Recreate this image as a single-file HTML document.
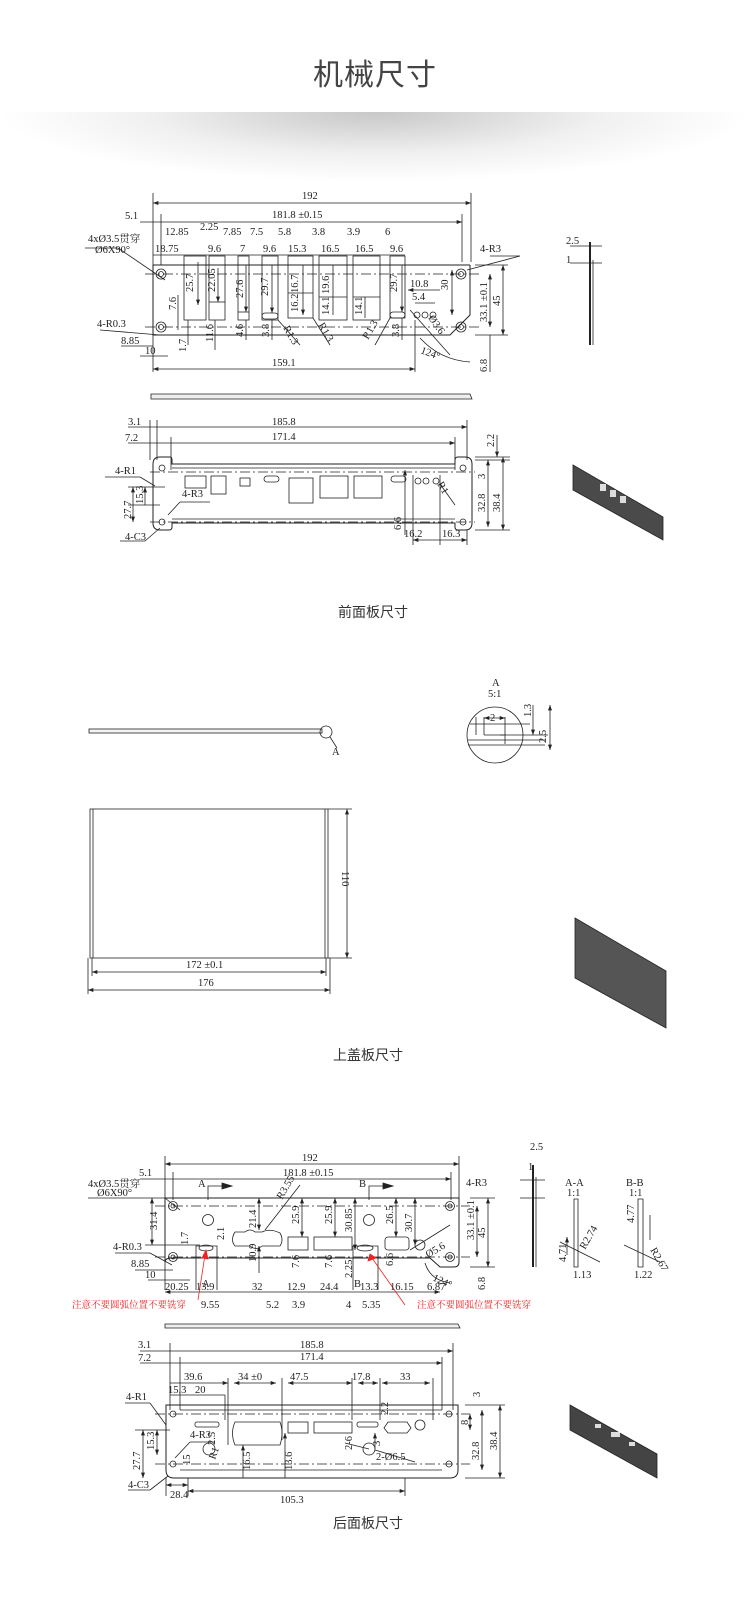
<!DOCTYPE html>
<html><head><meta charset="utf-8"><style>
html,body{margin:0;padding:0;background:#fff;}
body{width:750px;height:1607px;position:relative;overflow:hidden;}
.title{position:absolute;top:50px;left:0;width:750px;text-align:center;font:30px "Liberation Sans","Noto Sans CJK SC",sans-serif;color:#444;letter-spacing:1px;}
.shadow{position:absolute;top:112px;left:0;width:750px;height:70px;background:radial-gradient(ellipse 50% 100% at 50% 0%,rgba(0,0,0,0.22),rgba(0,0,0,0.06) 60%,rgba(0,0,0,0) 100%);}
svg{position:absolute;top:0;left:0;}
svg text{font-family:"Liberation Serif","Noto Serif CJK SC",serif;font-size:10.5px;fill:#222;}
.cap{font-family:"Liberation Sans","Noto Sans CJK SC",sans-serif !important;font-size:14px !important;fill:#333 !important;}
</style></head><body>
<div class="title">机械尺寸</div>
<div class="shadow"></div>
<svg width="750" height="1607" viewBox="0 0 750 1607">
<defs>
<marker id="a" viewBox="0 0 8 6" refX="8" refY="3" markerWidth="7" markerHeight="5" orient="auto-start-reverse"><path d="M0,0L8,3L0,6z" fill="#222"/></marker>
</defs>
<g stroke="#222" stroke-width="0.8" fill="none">
<!-- ===== Section 1 front panel top view ===== -->
<line x1="153" y1="193" x2="153" y2="372"/>
<line x1="471" y1="193" x2="471" y2="262"/>
<line x1="153" y1="203" x2="471" y2="203" marker-start="url(#a)" marker-end="url(#a)"/>
<line x1="161" y1="214" x2="161" y2="265"/>
<line x1="462" y1="214" x2="462" y2="262"/>
<line x1="140" y1="222" x2="462" y2="222" marker-end="url(#a)"/>
<line x1="153" y1="255" x2="405" y2="255"/>
<line x1="153" y1="265" x2="470" y2="265" stroke-width="1"/>
<path d="M153,265 V335 H450 L470,315 V265" stroke-width="1"/>
<line x1="145" y1="274" x2="480" y2="274" stroke-dasharray="10 3 2 3"/>
<line x1="145" y1="327" x2="480" y2="327" stroke-dasharray="10 3 2 3"/>
<circle cx="161" cy="274" r="5"/><circle cx="161" cy="274" r="2.5"/>
<circle cx="161" cy="327" r="5"/><circle cx="161" cy="327" r="2.5"/>
<circle cx="461" cy="274" r="5"/><circle cx="461" cy="274" r="2.5"/>
<circle cx="461" cy="327" r="5"/><circle cx="461" cy="327" r="2.5"/>
<rect x="184" y="256" width="22" height="64"/>
<rect x="209" y="256" width="16" height="64"/><line x1="209" y1="302" x2="225" y2="302"/>
<rect x="238" y="256" width="11" height="64"/><line x1="238" y1="312" x2="249" y2="312"/>
<rect x="262" y="256" width="16" height="64"/><rect x="262" y="313" width="16" height="6" rx="3"/>
<rect x="288" y="256" width="25" height="62"/><line x1="288" y1="293" x2="313" y2="293"/>
<rect x="319" y="256" width="28" height="64"/><line x1="319" y1="297" x2="347" y2="297"/>
<rect x="353" y="256" width="27" height="64"/><line x1="353" y1="297" x2="380" y2="297"/>
<rect x="390" y="256" width="15" height="62"/><rect x="390" y="312" width="15" height="6" rx="3"/>
<circle cx="417" cy="315" r="3"/><circle cx="425" cy="315" r="3"/><circle cx="433" cy="315" r="3"/>
<line x1="198" y1="262" x2="198" y2="305" marker-end="url(#a)"/>
<line x1="218" y1="268" x2="218" y2="302" marker-end="url(#a)"/>
<line x1="246" y1="265" x2="246" y2="312" marker-end="url(#a)"/>
<line x1="272" y1="265" x2="272" y2="313" marker-end="url(#a)"/>
<line x1="303" y1="265" x2="303" y2="315" marker-end="url(#a)"/>
<line x1="333" y1="265" x2="333" y2="315"/>
<line x1="365" y1="297" x2="365" y2="318"/>
<line x1="402" y1="265" x2="402" y2="312" marker-end="url(#a)"/>
<line x1="178" y1="295" x2="178" y2="330"/>
<line x1="188" y1="320" x2="188" y2="345"/>
<line x1="215" y1="320" x2="215" y2="350"/>
<line x1="246" y1="320" x2="246" y2="340"/>
<line x1="272" y1="320" x2="272" y2="340"/>
<line x1="402" y1="318" x2="402" y2="340"/>
<line x1="408" y1="290" x2="440" y2="290" marker-start="url(#a)"/>
<line x1="415" y1="303" x2="435" y2="303"/>
<line x1="452" y1="270" x2="452" y2="315" marker-start="url(#a)" marker-end="url(#a)"/>
<line x1="490" y1="274" x2="490" y2="327" marker-start="url(#a)" marker-end="url(#a)"/>
<line x1="475" y1="265" x2="508" y2="265"/><line x1="475" y1="335" x2="508" y2="335"/>
<line x1="503" y1="265" x2="503" y2="335" marker-start="url(#a)" marker-end="url(#a)"/>
<line x1="490" y1="335" x2="490" y2="372"/>
<path d="M420,338 Q440,360 470,362"/>
<line x1="467" y1="270" x2="520" y2="256"/><line x1="490" y1="256" x2="520" y2="256"/>
<line x1="165" y1="280" x2="118" y2="248"/><line x1="85" y1="248" x2="118" y2="248"/>
<line x1="160" y1="335" x2="100" y2="330"/>
<line x1="121" y1="346" x2="153" y2="346"/><line x1="140" y1="356" x2="168" y2="356"/>
<line x1="153" y1="369" x2="415" y2="369" marker-start="url(#a)" marker-end="url(#a)"/>
<line x1="415" y1="320" x2="415" y2="372"/>
<line x1="278" y1="320" x2="300" y2="345"/><line x1="313" y1="318" x2="330" y2="345"/>
<line x1="390" y1="318" x2="375" y2="345"/><line x1="410" y1="310" x2="450" y2="355"/>
<path d="M151,394 H470 L472,399 H151 Z" fill="#eee"/>
<!-- side view top -->
<line x1="590" y1="242" x2="590" y2="345" stroke-width="2"/>
<line x1="593" y1="260" x2="593" y2="345"/>
<line x1="570" y1="246" x2="602" y2="246"/><line x1="570" y1="263" x2="602" y2="263"/>
<!-- ===== Section 1 bottom view ===== -->
<line x1="150" y1="420" x2="150" y2="460"/><line x1="157" y1="420" x2="157" y2="460"/>
<line x1="467" y1="420" x2="467" y2="460"/>
<line x1="128" y1="427" x2="467" y2="427" marker-end="url(#a)"/>
<line x1="171" y1="437" x2="171" y2="470"/><line x1="455" y1="437" x2="455" y2="470"/>
<line x1="128" y1="443" x2="455" y2="443" marker-end="url(#a)"/>
<path d="M160,457 H170 Q172,457 172,460 V464 H455 V460 Q455,457 458,457 H465 Q472,457 472,464 V523 Q472,530 465,530 H458 Q455,530 455,527 V523 H172 V527 Q172,530 169,530 H160 Q153,530 153,523 V464 Q153,457 160,457 Z" stroke-width="1"/>
<line x1="172" y1="468" x2="455" y2="468"/>
<line x1="150" y1="472" x2="475" y2="472" stroke-dasharray="10 3 2 3"/>
<line x1="172" y1="519" x2="455" y2="519"/>
<line x1="150" y1="522" x2="475" y2="522" stroke-dasharray="10 3 2 3"/>
<circle cx="162" cy="468" r="3"/><circle cx="162" cy="522" r="3"/>
<circle cx="463" cy="468" r="3"/><circle cx="463" cy="522" r="3"/>
<rect x="185" y="476" width="21" height="12"/>
<rect x="211" y="476" width="15" height="18"/>
<rect x="240" y="478" width="10" height="8"/>
<rect x="264" y="476" width="15" height="6" rx="3"/>
<rect x="289" y="478" width="24" height="25"/>
<rect x="320" y="476" width="28" height="22"/>
<rect x="354" y="476" width="28" height="22"/>
<rect x="391" y="476" width="15" height="6" rx="3"/>
<circle cx="418" cy="481" r="3"/><circle cx="426" cy="481" r="3"/><circle cx="436" cy="481" r="3"/>
<line x1="413" y1="475" x2="413" y2="545"/><line x1="440" y1="475" x2="440" y2="545"/><line x1="467" y1="530" x2="467" y2="545"/>
<line x1="413" y1="540" x2="467" y2="540" marker-start="url(#a)" marker-end="url(#a)"/>
<line x1="405" y1="470" x2="405" y2="535" marker-start="url(#a)"/>
<line x1="475" y1="460" x2="510" y2="460"/><line x1="475" y1="457" x2="510" y2="457"/><line x1="475" y1="530" x2="510" y2="530"/>
<line x1="488" y1="460" x2="488" y2="527" marker-start="url(#a)" marker-end="url(#a)"/>
<line x1="503" y1="457" x2="503" y2="530" marker-start="url(#a)" marker-end="url(#a)"/>
<line x1="497" y1="435" x2="497" y2="457" marker-end="url(#a)"/>
<line x1="133" y1="487" x2="133" y2="522" marker-start="url(#a)" marker-end="url(#a)"/>
<line x1="145" y1="487" x2="145" y2="505" marker-start="url(#a)"/>
<line x1="128" y1="487" x2="165" y2="487"/><line x1="128" y1="505" x2="160" y2="505"/>
<line x1="105" y1="477" x2="140" y2="477"/><line x1="140" y1="477" x2="155" y2="486"/>
<line x1="180" y1="502" x2="210" y2="502"/><line x1="180" y1="502" x2="168" y2="515"/>
<line x1="120" y1="541" x2="145" y2="541"/><line x1="145" y1="541" x2="160" y2="528"/>
<line x1="440" y1="484" x2="455" y2="505"/>
<path d="M573,465 L663,517 L663,540 L573,490 Z" fill="#4a4a4a"/>
<!-- ===== Section 2 ===== -->
<rect x="89" y="729" width="233" height="4" fill="#f4f4f4"/>
<circle cx="326" cy="732" r="6"/>
<line x1="330" y1="737" x2="337" y2="748"/>
<circle cx="495" cy="735" r="28"/>
<line x1="470" y1="724" x2="530" y2="724"/><line x1="468" y1="740" x2="545" y2="740"/><line x1="468" y1="745" x2="545" y2="745"/>
<line x1="476" y1="717" x2="476" y2="735"/><line x1="484" y1="717" x2="484" y2="735"/><line x1="484" y1="735" x2="505" y2="735"/><line x1="505" y1="717" x2="505" y2="744"/>
<line x1="484" y1="718" x2="505" y2="718" marker-start="url(#a)" marker-end="url(#a)"/>
<line x1="533" y1="705" x2="533" y2="735" marker-end="url(#a)"/>
<line x1="550" y1="705" x2="550" y2="750" marker-start="url(#a)" marker-end="url(#a)"/>
<line x1="500" y1="735" x2="548" y2="735"/>
<rect x="90" y="809" width="238" height="149"/>
<line x1="93" y1="809" x2="93" y2="958"/><line x1="325" y1="809" x2="325" y2="958"/>
<line x1="328" y1="809" x2="352" y2="809"/><line x1="328" y1="958" x2="352" y2="958"/>
<line x1="347" y1="809" x2="347" y2="958" marker-start="url(#a)" marker-end="url(#a)"/>
<line x1="92" y1="958" x2="92" y2="976"/><line x1="326" y1="958" x2="326" y2="976"/>
<line x1="92" y1="972" x2="326" y2="972" marker-start="url(#a)" marker-end="url(#a)"/>
<line x1="88" y1="958" x2="88" y2="994"/><line x1="330" y1="958" x2="330" y2="994"/>
<line x1="88" y1="990" x2="330" y2="990" marker-start="url(#a)" marker-end="url(#a)"/>
<path d="M575,918 L666,971 L666,1028 L575,978 Z" fill="#555" stroke="#222"/>
<!-- ===== Section 3 rear panel ===== -->
<line x1="165" y1="1156" x2="165" y2="1290"/><line x1="459" y1="1156" x2="459" y2="1198"/>
<line x1="165" y1="1164" x2="459" y2="1164" marker-start="url(#a)" marker-end="url(#a)"/>
<line x1="173" y1="1172" x2="173" y2="1200"/><line x1="451" y1="1172" x2="451" y2="1200"/>
<line x1="140" y1="1179" x2="451" y2="1179" marker-end="url(#a)"/>
<polyline points="208,1200 208,1186 225,1186" /><path d="M222,1183 L232,1186 L222,1189Z" fill="#222"/>
<polyline points="369,1200 369,1186 386,1186" /><path d="M383,1183 L393,1186 L383,1189Z" fill="#222"/>
<path d="M165,1198 H459 V1262 Q459,1267 454,1267 H440 L430,1258 H172 Q165,1258 165,1262 Z" stroke-width="1"/>
<line x1="155" y1="1206" x2="470" y2="1206" stroke-dasharray="10 3 2 3"/>
<line x1="155" y1="1257" x2="470" y2="1257" stroke-dasharray="10 3 2 3"/>
<circle cx="173" cy="1206" r="4.5"/><circle cx="173" cy="1206" r="2"/>
<circle cx="173" cy="1257" r="4.5"/><circle cx="173" cy="1257" r="2"/>
<circle cx="450" cy="1206" r="4.5"/><circle cx="450" cy="1206" r="2"/>
<circle cx="450" cy="1257" r="4.5"/><circle cx="450" cy="1257" r="2"/>
<circle cx="208" cy="1220" r="5.5"/><circle cx="369" cy="1220" r="5.5"/>
<path d="M235,1232 H245 Q250,1228 255,1232 H262 Q270,1228 280,1233 Q284,1240 280,1246 H262 Q256,1251 250,1246 H235 Q230,1240 235,1232 Z"/>
<rect x="288" y="1237" width="20" height="13"/><rect x="314" y="1237" width="38" height="13"/>
<rect x="385" y="1237" width="24" height="13" rx="3"/>
<circle cx="420" cy="1245" r="5"/>
<path d="M196,1290 V1246 H217 V1290"/><ellipse cx="206" cy="1248" rx="7" ry="3"/>
<path d="M353,1290 V1246 H378 V1290"/><ellipse cx="365" cy="1248" rx="8" ry="3"/>
<line x1="152" y1="1198" x2="152" y2="1245" marker-start="url(#a)" marker-end="url(#a)"/>
<line x1="145" y1="1245" x2="200" y2="1245"/>
<line x1="259" y1="1198" x2="259" y2="1230" marker-start="url(#a)" marker-end="url(#a)"/>
<line x1="259" y1="1246" x2="259" y2="1273" marker-start="url(#a)"/>
<line x1="302" y1="1198" x2="302" y2="1237" marker-start="url(#a)" marker-end="url(#a)"/>
<line x1="335" y1="1198" x2="335" y2="1237" marker-start="url(#a)" marker-end="url(#a)"/>
<line x1="355" y1="1198" x2="355" y2="1250" marker-start="url(#a)" marker-end="url(#a)"/>
<line x1="396" y1="1198" x2="396" y2="1237" marker-start="url(#a)" marker-end="url(#a)"/>
<line x1="415" y1="1198" x2="415" y2="1245" marker-start="url(#a)" marker-end="url(#a)"/>
<line x1="470" y1="1198" x2="495" y2="1198"/><line x1="470" y1="1267" x2="495" y2="1267"/>
<line x1="477" y1="1206" x2="477" y2="1257" marker-start="url(#a)" marker-end="url(#a)"/>
<line x1="488" y1="1198" x2="488" y2="1267" marker-start="url(#a)" marker-end="url(#a)"/>
<line x1="265" y1="1230" x2="300" y2="1185"/>
<line x1="410" y1="1250" x2="450" y2="1225"/>
<line x1="88" y1="1198" x2="165" y2="1198"/><line x1="165" y1="1198" x2="180" y2="1210"/>
<line x1="115" y1="1253" x2="150" y2="1253"/><line x1="150" y1="1253" x2="172" y2="1265"/>
<line x1="135" y1="1270" x2="173" y2="1270"/><line x1="148" y1="1280" x2="190" y2="1280"/>
<path d="M425,1263 Q430,1280 450,1283"/>
<line x1="165" y1="1292" x2="440" y2="1292" marker-start="url(#a)" marker-end="url(#a)"/>
<line x1="198" y1="1300" x2="205" y2="1255" stroke="#e22"/><path d="M202,1258 L206,1250 L208,1259Z" fill="#e22" stroke="#e22"/>
<line x1="405" y1="1305" x2="372" y2="1258" stroke="#e22"/><path d="M368,1261 L370,1254 L376,1258Z" fill="#e22" stroke="#e22"/>
<path d="M165,1324 H458 L460,1328 H165 Z" fill="#eee"/>
<line x1="170" y1="1343" x2="170" y2="1410"/><line x1="453" y1="1343" x2="453" y2="1410"/>
<line x1="140" y1="1351" x2="453" y2="1351" marker-end="url(#a)"/>
<line x1="180" y1="1357" x2="180" y2="1410"/><line x1="442" y1="1357" x2="442" y2="1410"/>
<line x1="140" y1="1363" x2="442" y2="1363" marker-end="url(#a)"/>
<line x1="170" y1="1383" x2="228" y2="1383" marker-end="url(#a)"/>
<line x1="228" y1="1378" x2="228" y2="1445"/><line x1="282" y1="1378" x2="282" y2="1440"/>
<line x1="234" y1="1383" x2="276" y2="1383" marker-start="url(#a)" marker-end="url(#a)"/>
<line x1="288" y1="1383" x2="352" y2="1383" marker-start="url(#a)" marker-end="url(#a)"/>
<line x1="352" y1="1378" x2="352" y2="1420"/><line x1="380" y1="1378" x2="380" y2="1420"/><line x1="433" y1="1378" x2="433" y2="1420"/>
<line x1="358" y1="1383" x2="378" y2="1383" marker-start="url(#a)" marker-end="url(#a)"/>
<line x1="382" y1="1383" x2="430" y2="1383" marker-start="url(#a)" marker-end="url(#a)"/>
<line x1="170" y1="1395" x2="225" y2="1395"/><line x1="225" y1="1395" x2="225" y2="1420"/>
<path d="M166,1405 H458 V1470 Q458,1478 450,1478 H174 Q166,1478 166,1470 Z" stroke-width="1"/>
<line x1="180" y1="1410" x2="442" y2="1410"/><line x1="180" y1="1470" x2="442" y2="1470"/>
<line x1="155" y1="1414" x2="470" y2="1414" stroke-dasharray="10 3 2 3"/>
<line x1="155" y1="1464" x2="470" y2="1464" stroke-dasharray="10 3 2 3"/>
<circle cx="173" cy="1414" r="3"/><circle cx="449" cy="1414" r="3"/><circle cx="173" cy="1464" r="3"/><circle cx="449" cy="1464" r="3"/>
<rect x="195" y="1422" width="24" height="5" rx="2"/>
<path d="M235,1422 H280 Q284,1433 280,1445 H235 Q230,1433 235,1422 Z"/>
<rect x="288" y="1422" width="20" height="11"/><rect x="314" y="1422" width="38" height="11"/>
<rect x="357" y="1422" width="21" height="5" rx="2"/>
<path d="M388,1422 H407 L411,1428 L407,1433 H388 L384,1428 Z"/>
<circle cx="420" cy="1425" r="5"/><circle cx="209" cy="1449" r="6"/><circle cx="369" cy="1449" r="6"/>
<line x1="243" y1="1445" x2="243" y2="1478" marker-start="url(#a)"/>
<line x1="285" y1="1433" x2="285" y2="1478" marker-start="url(#a)"/>
<line x1="375" y1="1433" x2="375" y2="1449" marker-start="url(#a)"/>
<line x1="345" y1="1443" x2="369" y2="1449"/><line x1="375" y1="1450" x2="415" y2="1462"/>
<line x1="143" y1="1430" x2="143" y2="1478" marker-start="url(#a)" marker-end="url(#a)"/>
<line x1="157" y1="1430" x2="157" y2="1455" marker-start="url(#a)" marker-end="url(#a)"/>
<line x1="135" y1="1430" x2="170" y2="1430"/>
<line x1="125" y1="1403" x2="150" y2="1403"/><line x1="150" y1="1403" x2="166" y2="1425"/>
<line x1="190" y1="1442" x2="215" y2="1442"/><line x1="190" y1="1442" x2="175" y2="1458"/>
<line x1="465" y1="1405" x2="505" y2="1405"/><line x1="465" y1="1478" x2="505" y2="1478"/>
<line x1="470" y1="1414" x2="470" y2="1430" marker-start="url(#a)" marker-end="url(#a)"/>
<line x1="482" y1="1410" x2="482" y2="1470" marker-start="url(#a)" marker-end="url(#a)"/>
<line x1="500" y1="1405" x2="500" y2="1478" marker-start="url(#a)" marker-end="url(#a)"/>
<line x1="166" y1="1478" x2="166" y2="1496"/><line x1="188" y1="1478" x2="188" y2="1496"/><line x1="405" y1="1478" x2="405" y2="1496"/>
<line x1="166" y1="1485" x2="188" y2="1485" marker-start="url(#a)" marker-end="url(#a)"/>
<line x1="188" y1="1491" x2="405" y2="1491" marker-start="url(#a)" marker-end="url(#a)"/>
<line x1="128" y1="1490" x2="150" y2="1490"/><line x1="150" y1="1490" x2="168" y2="1476"/>
<!-- side / section views -->
<line x1="533" y1="1165" x2="533" y2="1267" stroke-width="2"/><line x1="536" y1="1177" x2="536" y2="1267"/>
<line x1="520" y1="1180" x2="545" y2="1180"/><line x1="520" y1="1198" x2="545" y2="1198"/>
<path d="M574,1199 H578 V1267 H574 Z"/><path d="M638,1199 H643 V1267 H638 Z"/>
<line x1="560" y1="1242" x2="600" y2="1262"/><line x1="624" y1="1245" x2="660" y2="1262"/>
<line x1="567" y1="1237" x2="567" y2="1255" marker-start="url(#a)"/>
<line x1="650" y1="1215" x2="650" y2="1240"/>
<path d="M570,1405 L657,1454 L657,1478 L570,1430 Z" fill="#444"/>
</g>
<g fill="#ddd">
<rect x="600" y="484" width="6" height="7"/><rect x="610" y="490" width="6" height="7"/><rect x="620" y="496" width="6" height="7"/>
<rect x="595" y="1424" width="6" height="4"/><rect x="611" y="1432" width="9" height="5"/><rect x="629" y="1442" width="6" height="4"/>
</g>
<!-- Text section 1 -->
<text x="302" y="199">192</text>
<text x="272" y="218">181.8 ±0.15</text>
<text x="125" y="219">5.1</text>
<text x="165" y="235">12.85</text><text x="200" y="230">2.25</text><text x="223" y="235">7.85</text><text x="250" y="235">7.5</text><text x="278" y="235">5.8</text><text x="312" y="235">3.8</text><text x="347" y="235">3.9</text><text x="385" y="235">6</text>
<text x="155" y="252">18.75</text><text x="208" y="252">9.6</text><text x="240" y="252">7</text><text x="263" y="252">9.6</text><text x="288" y="252">15.3</text><text x="321" y="252">16.5</text><text x="355" y="252">16.5</text><text x="390" y="252">9.6</text>
<text x="88" y="242">4xØ3.5贯穿</text><text x="95" y="253">Ø6X90°</text>
<text x="480" y="252">4-R3</text>
<text x="97" y="327">4-R0.3</text>
<text x="121" y="344">8.85</text><text x="145" y="354">10</text>
<text x="410" y="287">10.8</text><text x="412" y="300">5.4</text>
<text x="272" y="366">159.1</text>
<text x="420" y="353" transform="rotate(20 420 353)">124°</text>
<g font-size="10.5">
<text transform="translate(193,292) rotate(-90)">25.7</text>
<text transform="translate(215,292) rotate(-90)">22.05</text>
<text transform="translate(243,298) rotate(-90)">27.6</text>
<text transform="translate(268,296) rotate(-90)">29.7</text>
<text transform="translate(298,293) rotate(-90)">16.7</text>
<text transform="translate(298,312) rotate(-90)">16.2</text>
<text transform="translate(329,294) rotate(-90)">19.6</text>
<text transform="translate(329,315) rotate(-90)">14.1</text>
<text transform="translate(362,315) rotate(-90)">14.1</text>
<text transform="translate(397,292) rotate(-90)">29.7</text>
<text transform="translate(176,310) rotate(-90)">7.6</text>
<text transform="translate(186,352) rotate(-90)">1.7</text>
<text transform="translate(213,342) rotate(-90)">11.6</text>
<text transform="translate(243,337) rotate(-90)">4.6</text>
<text transform="translate(269,337) rotate(-90)">3.8</text>
<text transform="translate(399,337) rotate(-90)">3.8</text>
<text transform="translate(448,290) rotate(-90)">30</text>
<text transform="translate(487,322) rotate(-90)">33.1 ±0.1</text>
<text transform="translate(500,306) rotate(-90)">45</text>
<text transform="translate(487,372) rotate(-90)">6.8</text>
<text transform="translate(283,328) rotate(60)">R1.3</text>
<text transform="translate(318,325) rotate(60)">R1.3</text>
<text transform="translate(368,340) rotate(-60)">R1.3</text>
<text transform="translate(428,318) rotate(55)">Ø3.6</text>
</g>
<text x="566" y="244">2.5</text><text x="566" y="263">1</text>
<text x="128" y="425">3.1</text><text x="272" y="425">185.8</text>
<text x="125" y="441">7.2</text><text x="272" y="440">171.4</text>
<text x="115" y="474">4-R1</text><text x="182" y="497">4-R3</text><text x="125" y="540">4-C3</text>
<text x="404" y="537">16.2</text><text x="442" y="537">16.3</text>
<text transform="translate(131,519) rotate(-90)">27.7</text>
<text transform="translate(143,504) rotate(-90)">15.3</text>
<text transform="translate(401,530) rotate(-90)">6.6</text>
<text transform="translate(485,479) rotate(-90)">3</text>
<text transform="translate(485,512) rotate(-90)">32.8</text>
<text transform="translate(500,512) rotate(-90)">38.4</text>
<text transform="translate(494,447) rotate(-90)">2.2</text>
<text transform="translate(437,484) rotate(60)">R1</text>
<text class="cap" x="338" y="617">前面板尺寸</text>
<!-- section 2 text -->
<text x="492" y="686" font-size="9">A</text><text x="488" y="697" font-size="9">5:1</text>
<text x="332" y="755">A</text>
<text x="490" y="721" font-size="9">2</text>
<text transform="translate(531,717) rotate(-90)" font-size="9">1.3</text>
<text transform="translate(546,743) rotate(-90)" font-size="9">2.5</text>
<text transform="translate(342,871) rotate(90)">110</text>
<text x="186" y="968">172 ±0.1</text>
<text x="198" y="986">176</text>
<text class="cap" x="333" y="1060">上盖板尺寸</text>
<!-- section 3 text -->
<text x="302" y="1161">192</text><text x="283" y="1176">181.8 ±0.15</text><text x="139" y="1176">5.1</text>
<text x="88" y="1187">4xØ3.5贯穿</text><text x="97" y="1196">Ø6X90°</text>
<text x="198" y="1187">A</text><text x="359" y="1187">B</text>
<text x="466" y="1186">4-R3</text>
<text x="113" y="1250">4-R0.3</text><text x="131" y="1267">8.85</text><text x="145" y="1278">10</text>
<text x="202" y="1287">A</text><text x="354" y="1287">B</text>
<text x="165" y="1290">20.25</text><text x="196" y="1290">13.9</text><text x="252" y="1290">32</text><text x="287" y="1290">12.9</text><text x="320" y="1290">24.4</text><text x="360" y="1290">13.3</text><text x="390" y="1290">16.15</text><text x="427" y="1290">6.87</text>
<text x="72" y="1308" style="fill:#e22;font-size:9.5px">注意不要圆弧位置不要铣穿</text>
<text x="417" y="1308" style="fill:#e22;font-size:9.5px">注意不要圆弧位置不要铣穿</text>
<text x="201" y="1308">9.55</text><text x="266" y="1308">5.2</text><text x="292" y="1308">3.9</text><text x="346" y="1308">4</text><text x="362" y="1308">5.35</text>
<text x="428" y="1258" transform="rotate(-30 428 1258)">Ø5.6</text>
<text x="432" y="1280" transform="rotate(25 432 1280)">124°</text>
<g>
<text transform="translate(157,1230) rotate(-90)">31.4</text>
<text transform="translate(256,1228) rotate(-90)">21.4</text>
<text transform="translate(256,1262) rotate(-90)">10.9</text>
<text transform="translate(299,1224) rotate(-90)">25.9</text>
<text transform="translate(332,1224) rotate(-90)">25.9</text>
<text transform="translate(352,1232) rotate(-90)">30.85</text>
<text transform="translate(393,1224) rotate(-90)">26.5</text>
<text transform="translate(412,1232) rotate(-90)">30.7</text>
<text transform="translate(474,1240) rotate(-90)">33.1 ±0.1</text>
<text transform="translate(485,1238) rotate(-90)">45</text>
<text transform="translate(299,1268) rotate(-90)">7.6</text>
<text transform="translate(332,1268) rotate(-90)">7.6</text>
<text transform="translate(352,1278) rotate(-90)">2.25</text>
<text transform="translate(393,1266) rotate(-90)">6.6</text>
<text transform="translate(224,1240) rotate(-90)">2.1</text>
<text transform="translate(188,1245) rotate(-90)">1.7</text>
<text transform="translate(485,1290) rotate(-90)">6.8</text>
<text transform="translate(282,1200) rotate(-60)">R3.55</text>
</g>
<text x="530" y="1150">2.5</text><text x="528" y="1170">1</text>
<text x="565" y="1186" font-size="9">A-A</text><text x="567" y="1196" font-size="7">1:1</text>
<text x="626" y="1186" font-size="9">B-B</text><text x="629" y="1196" font-size="7">1:1</text>
<text transform="translate(566,1262) rotate(-90)" font-size="9">4.71</text>
<text transform="translate(585,1250) rotate(-60)" font-size="9">R2.74</text>
<text x="573" y="1278" font-size="9">1.13</text>
<text transform="translate(634,1223) rotate(-90)" font-size="9">4.77</text>
<text transform="translate(650,1250) rotate(60)" font-size="9">R2.67</text>
<text x="634" y="1278" font-size="9">1.22</text>
<text x="138" y="1348">3.1</text><text x="300" y="1348">185.8</text>
<text x="138" y="1361">7.2</text><text x="300" y="1360">171.4</text>
<text x="184" y="1380">39.6</text><text x="238" y="1380">34 ±0</text><text x="290" y="1380">47.5</text><text x="352" y="1380">17.8</text><text x="400" y="1380">33</text>
<text x="168" y="1393">15.3</text><text x="195" y="1393">20</text>
<text x="126" y="1400">4-R1</text><text x="190" y="1438">4-R3</text><text x="376" y="1460">2-Ø6.5</text>
<text x="128" y="1488">4-C3</text><text x="170" y="1498">28.4</text><text x="280" y="1503">105.3</text>
<text transform="translate(140,1470) rotate(-90)">27.7</text>
<text transform="translate(154,1450) rotate(-90)">15.3</text>
<text transform="translate(250,1470) rotate(-90)">16.5</text>
<text transform="translate(292,1470) rotate(-90)">13.6</text>
<text transform="translate(380,1446) rotate(-90)">3</text>
<text transform="translate(388,1415) rotate(-90)">2.2</text>
<text transform="translate(352,1450) rotate(-90)">2-6</text>
<text transform="translate(215,1445) rotate(-90)">2.5</text>
<text transform="translate(215,1460) rotate(-70)">R1</text>
<text transform="translate(190,1465) rotate(-90)">15</text>
<text transform="translate(480,1397) rotate(-90)">3</text>
<text transform="translate(468,1425) rotate(-90)">8</text>
<text transform="translate(479,1460) rotate(-90)">32.8</text>
<text transform="translate(497,1450) rotate(-90)">38.4</text>
<text class="cap" x="333" y="1528">后面板尺寸</text>
</svg>
</body></html>
